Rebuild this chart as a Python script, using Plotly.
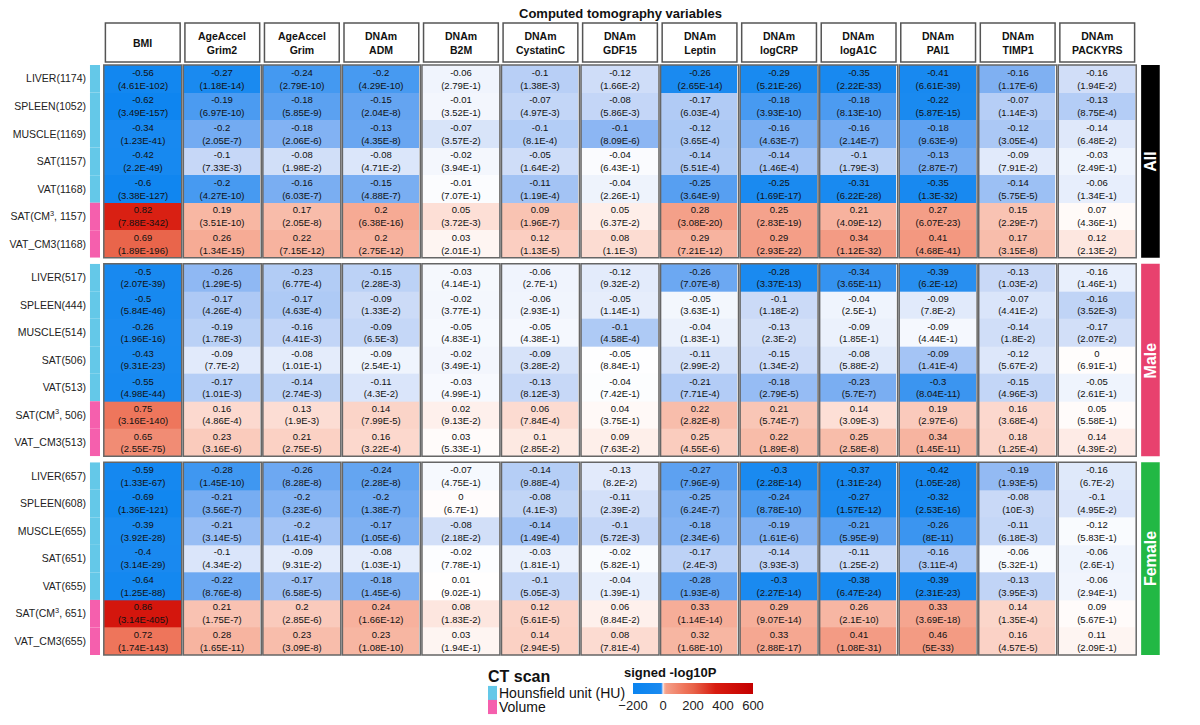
import numpy as np
import plotly.graph_objects as go
from plotly.subplots import make_subplots

columns = ["BMI", "AgeAccel<br>Grim2", "AgeAccel<br>Grim", "DNAm<br>ADM", "DNAm<br>B2M", "DNAm<br>CystatinC",
           "DNAm<br>GDF15", "DNAm<br>Leptin", "DNAm<br>logCRP", "DNAm<br>logA1C", "DNAm<br>PAI1", "DNAm<br>TIMP1", "DNAm<br>PACKYRS"]
groups = ["All", "Male", "Female"]
group_colors = ["#000000", "#e8416e", "#22b844"]

rows_all = ["LIVER(1174)", "SPLEEN(1052)", "MUSCLE(1169)", "SAT(1157)", "VAT(1168)", "SAT(CM<sup>3</sup>, 1157)", "VAT_CM3(1168)"]
rows_male = ["LIVER(517)", "SPLEEN(444)", "MUSCLE(514)", "SAT(506)", "VAT(513)", "SAT(CM<sup>3</sup>, 506)", "VAT_CM3(513)"]
rows_female = ["LIVER(657)", "SPLEEN(608)", "MUSCLE(655)", "SAT(651)", "VAT(655)", "SAT(CM<sup>3</sup>, 651)", "VAT_CM3(655)"]
row_type = ["HU", "HU", "HU", "HU", "HU", "Volume", "Volume"]

r_all = [
    [-0.56, -0.27, -0.24, -0.2, -0.06, -0.1, -0.12, -0.26, -0.29, -0.35, -0.41, -0.16, -0.16],
    [-0.62, -0.19, -0.18, -0.15, -0.01, -0.07, -0.08, -0.17, -0.18, -0.18, -0.22, -0.07, -0.13],
    [-0.34, -0.2, -0.18, -0.13, -0.07, -0.1, -0.1, -0.12, -0.16, -0.16, -0.18, -0.12, -0.14],
    [-0.42, -0.1, -0.08, -0.08, -0.02, -0.05, -0.04, -0.14, -0.14, -0.1, -0.13, -0.09, -0.03],
    [-0.6, -0.2, -0.16, -0.15, -0.01, -0.11, -0.04, -0.25, -0.25, -0.31, -0.35, -0.14, -0.06],
    [0.82, 0.19, 0.17, 0.2, 0.05, 0.09, 0.05, 0.28, 0.25, 0.21, 0.27, 0.15, 0.07],
    [0.69, 0.26, 0.22, 0.2, 0.03, 0.12, 0.08, 0.29, 0.29, 0.34, 0.41, 0.17, 0.12],
]
p_all = [
    ["4.61E-102", "1.18E-14", "2.79E-10", "4.29E-10", "2.79E-1", "1.38E-3", "1.66E-2", "2.65E-14", "5.21E-26", "2.22E-33", "6.61E-39", "1.17E-6", "1.94E-2"],
    ["3.49E-157", "6.97E-10", "5.85E-9", "2.04E-8", "3.52E-1", "4.97E-3", "5.86E-3", "6.03E-4", "3.93E-10", "8.13E-10", "5.87E-15", "1.14E-3", "8.75E-4"],
    ["1.23E-41", "2.05E-7", "2.06E-6", "4.35E-8", "3.57E-2", "8.1E-4", "8.09E-6", "3.65E-4", "4.63E-7", "2.14E-7", "9.63E-9", "3.05E-4", "6.48E-2"],
    ["2.2E-49", "7.33E-3", "1.98E-2", "4.71E-2", "3.94E-1", "1.64E-2", "6.43E-1", "5.51E-4", "1.46E-4", "1.79E-3", "2.87E-7", "7.91E-2", "2.49E-1"],
    ["3.38E-127", "4.27E-10", "6.03E-7", "4.88E-7", "7.07E-1", "1.19E-4", "2.26E-1", "3.64E-9", "1.69E-17", "6.22E-28", "1.3E-32", "5.75E-5", "1.34E-1"],
    ["7.88E-342", "3.51E-10", "2.05E-8", "6.38E-16", "3.72E-3", "1.96E-7", "6.37E-2", "3.08E-20", "2.83E-19", "4.09E-12", "6.07E-23", "2.29E-7", "4.36E-1"],
    ["1.89E-196", "1.34E-15", "7.15E-12", "2.75E-12", "2.01E-1", "1.13E-5", "1.1E-3", "7.21E-12", "2.93E-22", "1.12E-32", "4.68E-41", "3.15E-8", "2.13E-2"],
]
r_male = [
    [-0.5, -0.26, -0.23, -0.15, -0.03, -0.06, -0.12, -0.26, -0.28, -0.34, -0.39, -0.13, -0.16],
    [-0.5, -0.17, -0.17, -0.09, -0.02, -0.06, -0.05, -0.05, -0.1, -0.04, -0.09, -0.07, -0.16],
    [-0.26, -0.19, -0.16, -0.09, -0.05, -0.05, -0.1, -0.04, -0.13, -0.09, -0.09, -0.14, -0.17],
    [-0.43, -0.09, -0.08, -0.09, -0.02, -0.09, -0.05, -0.11, -0.15, -0.08, -0.09, -0.12, 0],
    [-0.55, -0.17, -0.14, -0.11, -0.03, -0.13, -0.04, -0.21, -0.18, -0.23, -0.3, -0.15, -0.05],
    [0.75, 0.16, 0.13, 0.14, 0.02, 0.06, 0.04, 0.22, 0.21, 0.14, 0.19, 0.16, 0.05],
    [0.65, 0.23, 0.21, 0.16, 0.03, 0.1, 0.09, 0.25, 0.22, 0.25, 0.34, 0.18, 0.14],
]
p_male = [
    ["2.07E-39", "1.29E-5", "6.77E-4", "2.28E-3", "4.14E-1", "2.7E-1", "9.32E-2", "7.07E-8", "3.37E-13", "3.65E-11", "6.2E-12", "1.03E-2", "1.46E-1"],
    ["5.84E-46", "4.26E-4", "4.63E-4", "1.33E-2", "3.77E-1", "2.93E-1", "1.14E-1", "3.63E-1", "1.18E-2", "2.5E-1", "7.8E-2", "4.41E-2", "3.52E-3"],
    ["1.96E-16", "1.78E-3", "4.41E-3", "6.5E-3", "4.83E-1", "4.38E-1", "4.58E-4", "1.83E-1", "2.3E-2", "1.85E-1", "4.44E-1", "1.8E-2", "2.07E-2"],
    ["9.31E-23", "7.7E-2", "1.01E-1", "2.54E-1", "3.49E-1", "3.28E-2", "8.84E-1", "2.99E-2", "1.34E-2", "5.88E-2", "1.41E-4", "5.67E-2", "6.91E-1"],
    ["4.98E-44", "1.01E-3", "2.74E-3", "4.3E-2", "4.99E-1", "8.12E-3", "7.42E-1", "7.71E-4", "2.79E-5", "5.7E-7", "8.04E-11", "4.96E-3", "2.61E-1"],
    ["3.16E-140", "4.86E-4", "1.9E-3", "7.99E-5", "9.13E-2", "7.84E-4", "3.75E-1", "2.82E-8", "5.74E-7", "3.09E-3", "2.97E-6", "3.68E-4", "5.58E-1"],
    ["2.55E-75", "3.16E-6", "2.75E-5", "3.22E-4", "5.33E-1", "2.85E-2", "7.63E-2", "4.55E-6", "1.89E-8", "2.58E-8", "1.45E-11", "1.25E-4", "4.39E-2"],
]
r_female = [
    [-0.59, -0.28, -0.26, -0.24, -0.07, -0.14, -0.13, -0.27, -0.3, -0.37, -0.42, -0.19, -0.16],
    [-0.69, -0.21, -0.2, -0.2, 0, -0.08, -0.11, -0.25, -0.24, -0.27, -0.32, -0.08, -0.1],
    [-0.39, -0.21, -0.2, -0.17, -0.08, -0.14, -0.1, -0.18, -0.19, -0.21, -0.26, -0.11, -0.12],
    [-0.4, -0.1, -0.09, -0.08, -0.02, -0.03, -0.02, -0.17, -0.14, -0.11, -0.16, -0.06, -0.06],
    [-0.64, -0.22, -0.17, -0.18, 0.01, -0.1, -0.04, -0.28, -0.3, -0.38, -0.39, -0.13, -0.06],
    [0.86, 0.21, 0.2, 0.24, 0.08, 0.12, 0.06, 0.33, 0.29, 0.26, 0.33, 0.14, 0.09],
    [0.72, 0.28, 0.23, 0.23, 0.03, 0.14, 0.08, 0.32, 0.33, 0.41, 0.46, 0.16, 0.11],
]
p_female = [
    ["1.33E-67", "1.45E-10", "8.28E-8", "2.28E-8", "4.75E-1", "9.88E-4", "8.2E-2", "7.96E-9", "2.28E-14", "1.31E-24", "1.05E-28", "1.93E-5", "6.7E-2"],
    ["1.36E-121", "3.56E-7", "3.23E-6", "1.38E-7", "6.7E-1", "4.1E-3", "2.39E-2", "6.24E-7", "8.78E-10", "1.57E-12", "2.53E-16", "10E-3", "4.95E-2"],
    ["3.92E-28", "3.14E-5", "1.41E-4", "1.05E-6", "2.18E-2", "1.49E-4", "5.72E-3", "2.34E-6", "1.61E-6", "5.95E-9", "8E-11", "6.18E-3", "5.83E-1"],
    ["3.14E-29", "4.34E-2", "9.31E-2", "1.03E-1", "7.78E-1", "1.81E-1", "5.82E-1", "2.4E-3", "3.93E-3", "1.25E-2", "3.11E-4", "5.32E-1", "2.6E-1"],
    ["1.25E-88", "8.76E-8", "6.58E-5", "1.45E-6", "9.02E-1", "5.05E-3", "1.39E-1", "1.93E-8", "2.27E-14", "6.47E-24", "2.31E-23", "3.95E-3", "2.94E-1"],
    ["3.14E-405", "1.75E-7", "2.85E-6", "1.66E-12", "1.83E-2", "5.61E-5", "8.84E-2", "1.14E-14", "9.07E-14", "2.1E-10", "3.69E-18", "1.35E-4", "5.67E-1"],
    ["1.74E-143", "1.65E-11", "3.09E-8", "1.08E-10", "1.94E-1", "2.94E-5", "7.81E-4", "1.68E-10", "2.88E-17", "1.08E-31", "5E-33", "4.57E-5", "2.09E-1"],
]

colorbar_ticks = [-200, 0, 200, 400, 600]


def neglog(p):
    m, e = p.split("E")
    return -(np.log10(float(m)) + int(e))


def signed(rv, pv):
    return [[(1 if r >= 0 else -1) * neglog(p) for r, p in zip(rr, pp)] for rr, pp in zip(rv, pv)]


def cs(z):
    return (z + 200) / 800


colorscale = [
    [0, "#0a84f0"], [cs(-12), "#1a8af0"], [cs(-8), "#5fa2f1"], [cs(-5), "#8db7f3"],
    [cs(-2), "#c9d9f7"], [cs(0), "#ffffff"], [cs(2), "#fde2da"], [cs(8), "#f8baa7"],
    [cs(20), "#f49f88"], [cs(150), "#ee7258"], [cs(200), "#e8644a"], [cs(350), "#d81c10"], [1, "#c40000"],
]


def py(px):
    # reference screen pixel row -> paper y (plot area spans screen rows 65..655)
    return (655 - px) / 590


def pxx(px):
    return (px - 103) / 1034


FONT = "Liberation Sans, Arial, sans-serif"
fig = make_subplots(rows=3, cols=1, shared_xaxes=True, vertical_spacing=0.01)
data = [(rows_all, r_all, p_all), (rows_male, r_male, p_male), (rows_female, r_female, p_female)]
ncol = len(columns)
for gi, (rl, rv, pv) in enumerate(data):
    z = signed(rv, pv)
    text = [[f"{r:g}<br>({p})" for r, p in zip(rr, pp)] for rr, pp in zip(rv, pv)]
    fig.add_trace(go.Heatmap(
        z=z, x=list(range(ncol)), y=list(range(len(rl))), text=text, texttemplate="%{text}",
        textfont=dict(size=9.5, color="#111", family=FONT), coloraxis="coloraxis", xgap=3,
        hoverinfo="skip"), row=gi + 1, col=1)
    yname = "y" if gi == 0 else f"y{gi + 1}"
    fig.update_yaxes(row=gi + 1, col=1, tickvals=list(range(len(rl))), ticktext=rl,
                     showgrid=False, zeroline=False, ticks="", ticklabelstandoff=16,
                     tickfont=dict(size=10.5, family=FONT, color="#222"), range=[len(rl) - 0.5, -0.5])
    for c in range(ncol):
        fig.add_shape(type="rect", xref="x", yref=f"{yname} domain", x0=c - 0.49, x1=c + 0.49, y0=0, y1=1,
                      line=dict(color="#666", width=1.5), fillcolor="rgba(0,0,0,0)")
    for i, t in enumerate(row_type):
        fig.add_shape(type="rect", xref="paper", yref=yname, x0=-0.0126, x1=-0.0029, y0=i - 0.5, y1=i + 0.5,
                      line_width=0, fillcolor="#64c8e8" if t == "HU" else "#f55fad")
    fig.add_shape(type="rect", xref="paper", yref=f"{yname} domain", x0=1.004, x1=1.022, y0=0, y1=1,
                  line_width=0, fillcolor=group_colors[gi])
    fig.add_annotation(text=f"<b>{groups[gi]}</b>", xref="paper", yref=f"{yname} domain", x=1.013, y=0.5,
                       xanchor="center", yanchor="middle", textangle=-90, showarrow=False,
                       font=dict(size=16, color="white", family=FONT))

fig.update_xaxes(showticklabels=False, showgrid=False, zeroline=False, range=[-0.5, ncol - 0.5])

for c, name in enumerate(columns):
    fig.add_shape(type="rect", xref="x", yref="paper", x0=c - 0.47, x1=c + 0.47, y0=py(62), y1=py(23),
                  line=dict(color="#555", width=1.5), fillcolor="white")
    fig.add_annotation(text=f"<b>{name}</b>", xref="x", yref="paper", x=c, y=py(42.5), yanchor="middle",
                       showarrow=False, font=dict(size=10.5, family=FONT, color="#111"))
fig.add_annotation(text="<b>Computed tomography variables</b>", xref="paper", yref="paper", x=0.5, y=py(14),
                   yanchor="middle", showarrow=False, font=dict(size=13, family=FONT, color="#111"))

fig.add_annotation(text="<b>CT scan</b>", xref="paper", yref="paper", x=pxx(486), y=py(676),
                   xanchor="left", yanchor="middle", showarrow=False, font=dict(size=16, family=FONT, color="#111"))
for k, (lab, col) in enumerate([("Hounsfield unit (HU)", "#64c8e8"), ("Volume", "#f55fad")]):
    yc = py(693 + 14 * k)
    fig.add_shape(type="rect", xref="paper", yref="paper", x0=pxx(488), x1=pxx(497),
                  y0=yc - 0.012, y1=yc + 0.012, line_width=0, fillcolor=col)
    fig.add_annotation(text=lab, xref="paper", yref="paper", x=pxx(497), y=yc, xanchor="left",
                       yanchor="middle", showarrow=False, font=dict(size=14, family=FONT, color="#111"))

fig.add_annotation(text="<b>signed -log10P</b>", xref="paper", yref="paper", x=pxx(622), y=py(672),
                   xanchor="left", yanchor="middle", showarrow=False, font=dict(size=13, family=FONT, color="#111"))

# browser body has an 8px margin: shrink the figure so it sits at the reference's pixel positions
fig.update_layout(
    width=1184, height=709, margin=dict(l=95, r=55, t=57, b=62, autoexpand=False),
    plot_bgcolor="white", paper_bgcolor="white", font=dict(family=FONT),
    coloraxis=dict(colorscale=colorscale, cmin=-200, cmax=600,
                   colorbar=dict(orientation="h", x=pxx(693), xanchor="center", y=py(683),
                                 yanchor="top", len=140, lenmode="pixels", thickness=11,
                                 tickvals=colorbar_ticks, ticks="", outlinewidth=0, ypad=0,
                                 tickfont=dict(size=13, family=FONT, color="#222"))),
)
fig.write_html("out.html")
